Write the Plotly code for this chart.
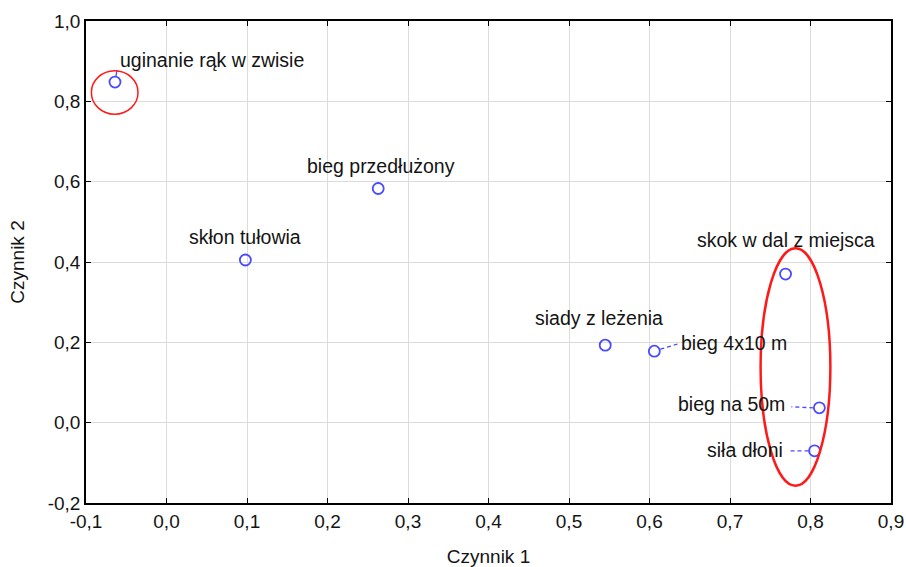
import plotly.graph_objects as go

# Factor loadings of the fitness tests on the two extracted factors
tests = [
    "uginanie rąk w zwisie",
    "bieg przedłużony",
    "skłon tułowia",
    "skok w dal z miejsca",
    "siady z leżenia",
    "bieg 4x10 m",
    "bieg na 50m",
    "siła dłoni",
]
factor1 = [-0.064, 0.263, 0.098, 0.769, 0.545, 0.606, 0.811, 0.805]
factor2 = [0.848, 0.583, 0.405, 0.370, 0.193, 0.178, 0.037, -0.070]

x_ticks = [-0.1, 0.0, 0.1, 0.2, 0.3, 0.4, 0.5, 0.6, 0.7, 0.8, 0.9]
x_tick_text = ["-0,1", "0,0", "0,1", "0,2", "0,3", "0,4", "0,5", "0,6", "0,7", "0,8", "0,9"]
y_ticks = [-0.2, 0.0, 0.2, 0.4, 0.6, 0.8, 1.0]
y_tick_text = ["-0,2", "0,0", "0,2", "0,4", "0,6", "0,8", "1,0"]

# Label placement (pixel offsets from each point) and optional dashed leaders
label_style = {
    "uginanie rąk w zwisie": dict(xshift=97, yshift=22, xanchor="center", leader=None),
    "bieg przedłużony": dict(xshift=3, yshift=23, xanchor="center", leader=None),
    "skłon tułowia": dict(xshift=0, yshift=23, xanchor="center", leader=None),
    "skok w dal z miejsca": dict(xshift=0, yshift=34, xanchor="center", leader=None),
    "siady z leżenia": dict(xshift=-6, yshift=27, xanchor="center", leader=None),
    "bieg 4x10 m": dict(xshift=25, yshift=8, xanchor="left", leader=(6, 2, 26, 8)),
    "bieg na 50m": dict(xshift=-32, yshift=4, xanchor="right", leader=(-6, 0, -28, 1)),
    "siła dłoni": dict(xshift=-30, yshift=1, xanchor="right", leader=(-6, 0, -27, 0)),
}

FONT = "Liberation Sans, Arial, sans-serif"
TEXT = "#141414"
BLUE = "#4a4aff"

fig = go.Figure()
fig.add_trace(go.Scatter(
    x=factor1, y=factor2, mode="markers",
    marker=dict(symbol="circle-open", size=11, color=BLUE, line=dict(width=1.8)),
    hoverinfo="text", text=tests, showlegend=False,
))

annotations = []
shapes = []
for name, fx, fy in zip(tests, factor1, factor2):
    st = label_style[name]
    annotations.append(dict(
        x=fx, y=fy, xref="x", yref="y", text=name, showarrow=False,
        xshift=st["xshift"], yshift=st["yshift"], xanchor=st["xanchor"], yanchor="middle",
        font=dict(family=FONT, size=19.5, color=TEXT),
    ))
    if st["leader"] is not None:
        x0, y0, x1, y1 = st["leader"]
        shapes.append(dict(
            type="line", xref="x", yref="y", xsizemode="pixel", ysizemode="pixel",
            xanchor=fx, yanchor=fy, x0=x0, y0=y0, x1=x1, y1=y1,
            line=dict(color=BLUE, width=1.3, dash="4px,3px"),
        ))

# short tick joining the first point to its label
shapes.append(dict(
    type="line", xref="x", yref="y", xsizemode="pixel", ysizemode="pixel",
    xanchor=factor1[0], yanchor=factor2[0], x0=1, y0=6, x1=2, y1=12,
    line=dict(color=BLUE, width=1.3),
))

# highlighted groups of tests
highlights = [
    dict(x0=-0.0933, x1=-0.0354, y0=0.768, y1=0.876, width=1.5),
    dict(x0=0.738, x1=0.8247, y0=-0.157, y1=0.434, width=2.5),
]
for h in highlights:
    shapes.append(dict(
        type="circle", xref="x", yref="y",
        x0=h["x0"], x1=h["x1"], y0=h["y0"], y1=h["y1"],
        line=dict(color="#ff1a1a", width=h["width"]),
    ))

axis_common = dict(
    showline=True, linecolor="#000000", linewidth=1.6, mirror="ticks",
    ticks="inside", ticklen=5, tickcolor="#000000", tickwidth=1,
    showgrid=True, gridcolor="#dcdcdc", gridwidth=1, zeroline=False,
    tickfont=dict(family=FONT, size=19, color=TEXT),
    automargin=False,
)

fig.update_layout(
    width=906, height=567,
    margin=dict(l=86, r=15, t=21, b=64),
    paper_bgcolor="white", plot_bgcolor="white",
    xaxis=dict(
        range=[-0.1, 0.9], tickmode="array", tickvals=x_ticks, ticktext=x_tick_text,
        title=dict(text="Czynnik 1", font=dict(family=FONT, size=19, color=TEXT), standoff=20),
        **axis_common,
    ),
    yaxis=dict(
        range=[-0.2, 1.0], tickmode="array", tickvals=y_ticks, ticktext=y_tick_text,
        title=dict(text="Czynnik 2", font=dict(family=FONT, size=19, color=TEXT), standoff=18),
        **axis_common,
    ),
    annotations=annotations,
    shapes=shapes,
)

fig.write_html("out.html")
